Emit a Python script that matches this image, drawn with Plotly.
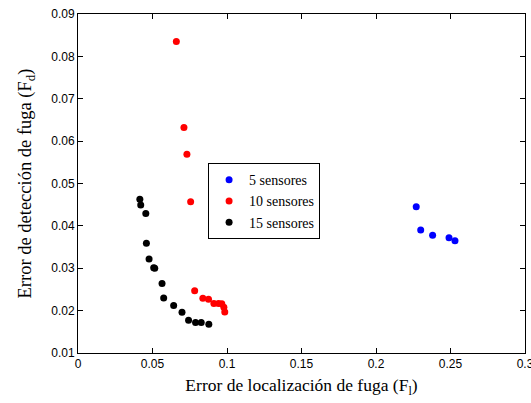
import plotly.graph_objects as go

x5 = [0.227, 0.230, 0.238, 0.249, 0.253]
y5 = [0.0445, 0.0390, 0.0378, 0.0372, 0.0365]

x10 = [0.066, 0.0711, 0.0731, 0.0756, 0.0783, 0.0838, 0.0876, 0.0912, 0.0943, 0.0965, 0.0979, 0.0985]
y10 = [0.0835, 0.0632, 0.0569, 0.0457, 0.0247, 0.0229, 0.0227, 0.0217, 0.0217, 0.0216, 0.0208, 0.0197]

x15 = [0.0415, 0.0421, 0.0455, 0.0459, 0.0477, 0.0508, 0.0515, 0.0564, 0.0575, 0.0642, 0.0698, 0.0742, 0.0789, 0.0827, 0.0878]
y15 = [0.0463, 0.0449, 0.0429, 0.0359, 0.0322, 0.0301, 0.0300, 0.0264, 0.0230, 0.0212, 0.0196, 0.0177, 0.0172, 0.0172, 0.0168]

xticks = [0, 0.05, 0.1, 0.15, 0.2, 0.25, 0.3]
xticklabels = ["0", "0.05", "0.1", "0.15", "0.2", "0.25", "0.3"]
yticks = [0.01, 0.02, 0.03, 0.04, 0.05, 0.06, 0.07, 0.08, 0.09]
yticklabels = ["0.01", "0.02", "0.03", "0.04", "0.05", "0.06", "0.07", "0.08", "0.09"]

series = [("5 sensores", x5, y5, "#0000ff"),
          ("10 sensores", x10, y10, "#ff0000"),
          ("15 sensores", x15, y15, "#000000")]

fig = go.Figure()
for name, xs, ys, col in series:
    fig.add_trace(go.Scatter(x=xs, y=ys, mode="markers", name=name,
                             marker=dict(color=col, size=7, line=dict(width=0))))

axis_common = dict(showgrid=False, zeroline=False, showline=True, linecolor="black",
                   linewidth=1, mirror="ticks", ticks="inside", ticklen=5,
                   tickcolor="black", automargin=False, ticklabeloverflow="allow",
                   tickfont=dict(family="Liberation Sans, Arial", size=12, color="black"))

fig.update_layout(
    width=531, height=403,
    margin=dict(l=78, r=6, t=14, b=50),
    paper_bgcolor="white", plot_bgcolor="white",
    showlegend=True,
    legend=dict(x=0.291, y=0.56, xanchor="left", yanchor="top",
                bordercolor="black", borderwidth=1, bgcolor="white",
                font=dict(family="Liberation Serif, Times New Roman", size=14, color="black"),
                itemsizing="trace", itemwidth=30, tracegroupgap=0),
    xaxis=dict(range=[0, 0.3], tickvals=xticks, ticktext=xticklabels,
               title=dict(text="Error de localización de fuga (F<sub>l</sub>)", standoff=8,
                          font=dict(family="Liberation Serif, Times New Roman", size=17.5, color="black")),
               **axis_common),
    yaxis=dict(range=[0.01, 0.09], tickvals=yticks, ticktext=yticklabels,
               title=dict(text="Error de detección de fuga (F<sub>d</sub>)", standoff=14,
                          font=dict(family="Liberation Serif, Times New Roman", size=18.5, color="black")),
               **axis_common),
)

fig.write_html("out.html", config={"displayModeBar": False},
               post_script="document.body.style.margin='0';document.body.style.overflow='hidden';")
